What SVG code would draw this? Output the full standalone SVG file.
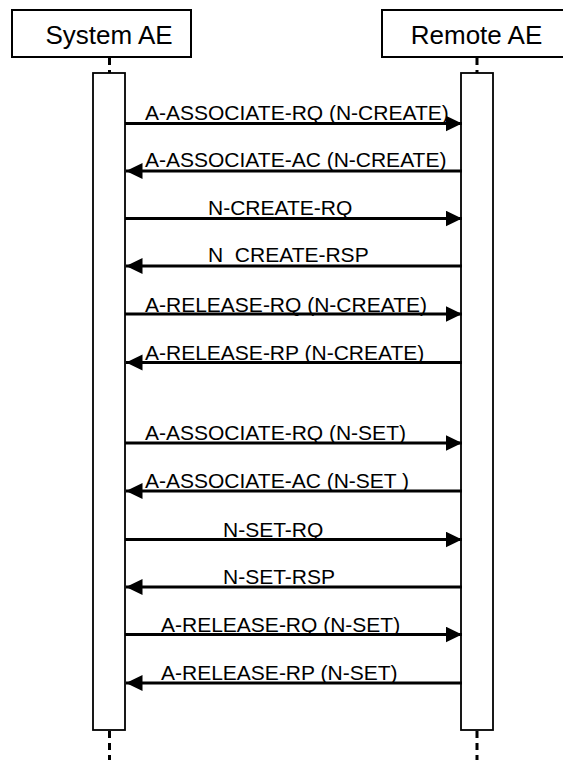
<svg xmlns="http://www.w3.org/2000/svg" width="563" height="760" viewBox="0 0 563 760">
<style>
.hdr{fill:#fff;stroke:#000;stroke-width:2}
.act{fill:#fff;stroke:#000;stroke-width:1.8}
.life{stroke:#000;stroke-width:3;stroke-dasharray:7 5;fill:none}
.ht{font-family:"Liberation Sans",Arial,sans-serif;font-size:26px;fill:#000;text-anchor:middle}
.lbl{font-family:"Liberation Sans",Arial,sans-serif;font-size:21px;fill:#000}
.msg{stroke:#000;stroke-width:3;fill:none}
.r{marker-end:url(#ah)}
</style>
<defs>
<marker id="ah" markerUnits="userSpaceOnUse" markerWidth="17" markerHeight="17" refX="16.5" refY="8" orient="auto">
<path d="M0,0 L16.5,8 L0,16 Z" fill="#000"/>
</marker>
</defs>
<g id="system-ae">
<rect class="hdr" x="12" y="10" width="179" height="47"/>
<text class="ht" x="109" y="44">System AE</text>
<line class="life" x1="109.5" y1="58" x2="109.5" y2="73"/>
<rect class="act" x="93" y="73" width="32" height="657"/>
<line class="life" x1="109.5" y1="731" x2="109.5" y2="760"/>
</g>
<g id="remote-ae">
<rect class="hdr" x="382" y="10" width="190" height="47"/>
<text class="ht" x="476.5" y="44">Remote AE</text>
<line class="life" x1="477" y1="58" x2="477" y2="73"/>
<rect class="act" x="461" y="73" width="32" height="657"/>
<line class="life" x1="477" y1="731" x2="477" y2="760"/>
</g>
<g id="connectors">
<text class="lbl" x="145" y="120">A-ASSOCIATE-RQ (N-CREATE)</text>
<line class="msg r" x1="125" y1="123.5" x2="462" y2="123.5"/>
<text class="lbl" x="145" y="167">A-ASSOCIATE-AC (N-CREATE)</text>
<line class="msg r" x1="462" y1="171" x2="126" y2="171"/>
<text class="lbl" x="208" y="215">N-CREATE-RQ</text>
<line class="msg r" x1="125" y1="218.5" x2="462" y2="218.5"/>
<text class="lbl" x="208" y="262.3">N_CREATE-RSP</text>
<line class="msg r" x1="462" y1="266" x2="126" y2="266"/>
<text class="lbl" x="145" y="311.5">A-RELEASE-RQ (N-CREATE)</text>
<line class="msg r" x1="125" y1="314" x2="462" y2="314"/>
<text class="lbl" x="145" y="360">A-RELEASE-RP (N-CREATE)</text>
<line class="msg r" x1="462" y1="362.5" x2="126" y2="362.5"/>
<text class="lbl" x="145" y="440">A-ASSOCIATE-RQ (N-SET)</text>
<line class="msg r" x1="125" y1="443" x2="462" y2="443"/>
<text class="lbl" x="145" y="488">A-ASSOCIATE-AC (N-SET )</text>
<line class="msg r" x1="462" y1="491" x2="126" y2="491"/>
<text class="lbl" x="223" y="536.5">N-SET-RQ</text>
<line class="msg r" x1="125" y1="539.5" x2="462" y2="539.5"/>
<text class="lbl" x="223" y="583.5">N-SET-RSP</text>
<line class="msg r" x1="462" y1="587" x2="126" y2="587"/>
<text class="lbl" x="161" y="631.5">A-RELEASE-RQ (N-SET)</text>
<line class="msg r" x1="125" y1="634.5" x2="462" y2="634.5"/>
<text class="lbl" x="161" y="680">A-RELEASE-RP (N-SET)</text>
<line class="msg r" x1="462" y1="683" x2="126" y2="683"/>
</g>
</svg>
